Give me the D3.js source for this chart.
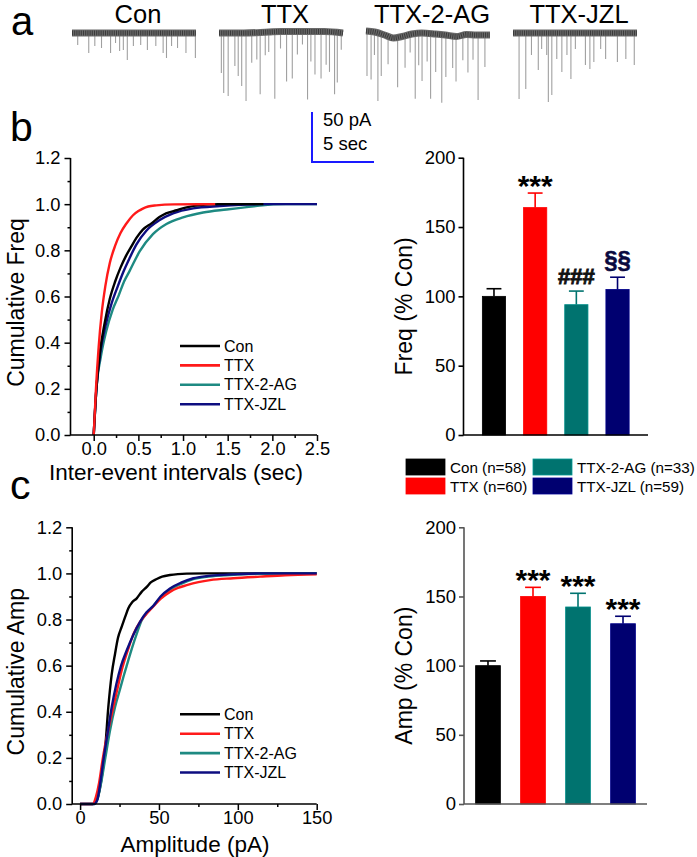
<!DOCTYPE html>
<html><head><meta charset="utf-8">
<script src="https://cdn.jsdelivr.net/npm/d3@7"></script>
<style>body{margin:0;background:#fff}svg{display:block;font-family:"Liberation Sans",Arial,sans-serif}</style>
</head><body><svg id="fig" width="697" height="857"></svg>
<script>
// ---------------- DATA ----------------
const groups = ["Con", "TTX", "TTX-2-AG", "TTX-JZL"];
const legendLabels = ["Con (n=58)", "TTX (n=60)", "TTX-2-AG (n=33)", "TTX-JZL (n=59)"];
const barColors = ["#000000", "#ff0000", "#00736f", "#000070"];
const lineColors = ["#000000", "#ff1a1a", "#1e8a82", "#0d0d80"];

// panel a: example traces (spike time in s, amplitude in pA)
const conSpikeT = [0.46,1.35,1.84,2.38,3.11,3.51,3.84,4.14,4.46,4.95,5.54,6.08,6.76,7.35,7.62,8.03,8.51,9.19,9.95];
const conSpikeA = [12,20,13,15,20,10,18,17,27,13,12,17,13,20,25,13,15,20,25];
const ttxSpikeT = [0.19,0.38,0.74,1.28,1.55,1.83,2.18,2.64,3.05,3.32,3.73,4.01,4.50,4.96,5.45,5.91,6.32,6.73,7.14,7.41,7.74,8.23,8.64,8.91,9.32,9.54,9.86];
const ttxSpikeA = [40,60,63,33,43,53,68,30,27,62,23,20,67,17,50,47,23,13,68,30,43,47,33,40,62,50,17];
const agSpikeT = [0.08,0.41,0.68,0.96,1.23,1.78,2.55,3.15,3.56,3.97,4.25,4.52,4.93,5.21,5.62,6.11,6.44,6.99,7.26,7.81,8.22,8.63,9.04,9.59];
const agSpikeA = [45,48,23,68,42,28,50,32,18,65,32,48,28,65,38,68,42,32,45,25,38,25,65,32];
const jzlSpikeT = [0.49,1.03,1.49,2.04,2.31,2.72,2.85,3.13,3.53,3.94,4.35,4.67,5.03,5.84,6.20,6.52,7.07,7.47,8.42,9.10,9.78];
const jzlSpikeA = [66,56,22,37,16,22,69,62,26,39,22,46,16,32,36,29,16,26,29,26,32];
// baseline drift (time s, offset pA)
const conDriftT = [0,10], conDriftA = [0,0];
const ttxDriftT = [0,2,4,5,6.5,8.5,10], ttxDriftA = [0,0,-1,-1.5,-1.5,-1.5,0];
const agDriftT = [0,0.7,1.5,2.2,2.9,3.7,4.5,5.6,6.4,7.3,8.1,8.9,10], agDriftA = [-2,-1,2,5,3.5,1,0,1,2,3.5,1.5,2,2];
const jzlDriftT = [0,10], jzlDriftA = [0,0];

// panel b: cumulative inter-event interval (sec, fraction)
const freqCon = [[0,0],[0.03,0.2],[0.07,0.36],[0.12,0.48],[0.18,0.59],[0.24,0.665],[0.3,0.725],[0.36,0.775],[0.42,0.816],[0.48,0.855],[0.55,0.89],[0.65,0.918],[0.74,0.945],[0.81,0.96],[0.93,0.974],[1.04,0.986],[1.19,0.996],[1.4,1.0],[1.9,1.0]];
const freqTTX = [[0,0],[0.025,0.2],[0.055,0.38],[0.09,0.53],[0.13,0.645],[0.18,0.745],[0.24,0.82],[0.3,0.875],[0.364,0.915],[0.44,0.952],[0.5,0.97],[0.55,0.981],[0.61,0.99],[0.7,0.995],[0.9,0.999],[1.36,1.0]];
const freqAG = [[0,0],[0.03,0.2],[0.08,0.34],[0.14,0.45],[0.21,0.54],[0.28,0.605],[0.34,0.665],[0.401,0.71],[0.514,0.795],[0.663,0.87],[0.814,0.914],[1.0,0.943],[1.225,0.964],[1.488,0.977],[1.713,0.987],[1.86,0.994],[2.15,1.0],[2.5,1.0]];
const freqJZL = [[0,0],[0.03,0.2],[0.075,0.36],[0.13,0.47],[0.2,0.57],[0.27,0.645],[0.33,0.705],[0.4,0.765],[0.477,0.825],[0.589,0.885],[0.739,0.931],[0.888,0.96],[1.113,0.982],[1.413,0.992],[1.86,1.0],[2.5,1.0]];
const freqMean = [100, 164, 94, 105];
const freqErr = [5.5, 10.5, 9.8, 8.8];
const freqMarks = ["", "***", "###", "§§"];

// panel c: cumulative amplitude (pA, fraction)
const ampCon = [[0,0],[8,0],[10,0.01],[12,0.05],[14,0.13],[16,0.25],[17.9,0.42],[20,0.56],[22.2,0.653],[24,0.72],[26.4,0.769],[28.5,0.81],[30.6,0.849],[33,0.875],[35.9,0.892],[39,0.92],[42.3,0.942],[45,0.962],[48.6,0.976],[52,0.986],[57,0.993],[62,0.997],[67.6,0.999],[80,1.0],[150,1.0]];
const ampTTX = [[0,0],[8,0],[10,0.03],[12,0.09],[14,0.18],[16,0.26],[18.5,0.34],[21.1,0.422],[24,0.51],[26.4,0.58],[30.6,0.674],[34,0.74],[38,0.79],[41.5,0.82],[45.4,0.849],[51,0.89],[57,0.92],[62,0.937],[67.6,0.949],[75,0.962],[82.4,0.971],[97.1,0.979],[114.1,0.986],[130,0.992],[150,0.996]];
const ampAG = [[0,0],[9,0],[11,0.02],[13,0.08],[16,0.2],[19,0.32],[22.2,0.422],[25,0.49],[27.5,0.552],[30,0.61],[32.8,0.674],[36,0.74],[39.1,0.797],[42.5,0.83],[46.5,0.86],[51,0.895],[57,0.93],[64,0.955],[71.8,0.975],[80,0.985],[88.7,0.991],[100,0.995],[120,0.999],[150,1.0]];
const ampJZL = [[0,0],[9,0],[11,0.02],[13,0.1],[15,0.2],[17.5,0.31],[20.1,0.422],[23,0.52],[26,0.6],[29.6,0.667],[33.5,0.73],[38,0.79],[42,0.83],[46.5,0.86],[51,0.9],[57,0.935],[64,0.96],[71.8,0.979],[80,0.988],[88.7,0.993],[100,0.997],[114,1.0],[150,1.0]];
const ampMean = [100, 150, 142.4, 130.3];
const ampErr = [3.4, 6.6, 9.9, 5.4];
const ampMarks = ["", "***", "***", "***"];

const cdfTicksY = [0, 0.2, 0.4, 0.6, 0.8, 1.0, 1.2];
const freqTicksX = [0, 0.5, 1.0, 1.5, 2.0, 2.5];
const ampTicksX = [0, 50, 100, 150];
const barTicksY = [0, 50, 100, 150, 200];

// ---------------- DRAW ----------------
const svg = d3.select("#fig");
const FONT = '"Liberation Sans", Arial, sans-serif';

function label(txt, x, y, size, opts = {}) {
  const t = svg.append("text").attr("x", x).attr("y", y).attr("font-size", size)
    .attr("fill", opts.fill || "#000").attr("text-anchor", opts.anchor || "start").text(txt);
  if (opts.weight) t.attr("font-weight", opts.weight);
  if (opts.stroke) t.attr("stroke", opts.fill || "#000").attr("stroke-width", opts.stroke);
  if (opts.rotate) t.attr("transform", `rotate(-90,${x},${y})`);
  return t;
}

// panel letters
label("a", 11, 35, 40);
label("b", 10, 141, 41);
label("c", 10, 499, 41);

// ---- panel a traces ----
const traces = [
  {name: groups[0], x0: 72, st: conSpikeT, sa: conSpikeA, dt: conDriftT, da: conDriftA},
  {name: groups[1], x0: 219, st: ttxSpikeT, sa: ttxSpikeA, dt: ttxDriftT, da: ttxDriftA},
  {name: groups[2], x0: 366, st: agSpikeT, sa: agSpikeA, dt: agDriftT, da: agDriftA},
  {name: groups[3], x0: 513, st: jzlSpikeT, sa: jzlSpikeA, dt: jzlDriftT, da: jzlDriftA}
];
const pxPerSec = 12.4, pxPerPA = 1.0, baseY = 33;
traces.forEach(tr => {
  const tx = d3.scaleLinear().domain([0, 10]).range([tr.x0, tr.x0 + 10 * pxPerSec]);
  const ty = d3.scaleLinear().domain([0, 100]).range([baseY, baseY + 100 * pxPerPA]);
  const drift = d3.scaleLinear().domain(tr.dt).range(tr.da);
  const g = svg.append("g");
  g.selectAll("line").data(tr.st.map((t, i) => [t, tr.sa[i]])).enter().append("line")
    .attr("x1", d => tx(d[0])).attr("x2", d => tx(d[0]))
    .attr("y1", d => ty(drift(d[0]))).attr("y2", d => ty(drift(d[0]) + d[1]))
    .attr("stroke", "#a0a0a0").attr("stroke-width", 1.1);
  const ln = d3.line().x(d => tx(d[0])).y(d => ty(d[1])).curve(d3.curveMonotoneX);
  const dd = tr.dt.map((t, i) => [t, tr.da[i]]);
  g.append("path").datum(dd).attr("d", ln)
    .attr("fill", "none").attr("stroke", "#6a6a6a").attr("stroke-width", 7);
  g.append("path").datum(dd).attr("d", ln)
    .attr("fill", "none").attr("stroke", "#3a3a3a").attr("stroke-width", 5).attr("stroke-dasharray", "1,1.2");
  label(tr.name, tx(5) + 4, 23, 25.5, {anchor: "middle"});
});
// scale bar
{
  const sx = d3.scaleLinear().domain([0, 5]).range([312, 312 + 5 * pxPerSec]);
  const sy = d3.scaleLinear().domain([0, 50]).range([162, 162 - 50 * pxPerPA]);
  svg.append("path").attr("d", `M${sx(0)},${sy(50)}V${sy(0)}H${sx(5)}`)
    .attr("fill", "none").attr("stroke", "#1a1aff").attr("stroke-width", 2);
  label("50 pA", 323, 126, 18.5);
  label("5 sec", 323, 150, 18.5);
}

// ---- CDF panels ----
function cdfPanel(cfg) {
  const x = d3.scaleLinear().domain(cfg.xDomain).range([cfg.left, cfg.right]);
  const y = d3.scaleLinear().domain([0, 1.2]).range([cfg.bottom, cfg.top]);
  const g = svg.append("g");
  const line = d3.line().x(d => x(d[0])).y(d => y(d[1])).curve(d3.curveMonotoneX);
  cfg.order.forEach(i => {
    g.append("path").datum(cfg.series[i]).attr("d", line).attr("fill", "none")
      .attr("stroke", lineColors[i]).attr("stroke-width", 2.4).attr("stroke-linejoin", "round");
  });
  const ya = d3.axisLeft(y).tickValues(cdfTicksY).tickSize(6).tickPadding(4).tickFormat(d3.format(".1f"));
  const yMinor = d3.axisLeft(y).tickValues(cdfTicksY.slice(0, -1).map(v => v + 0.1)).tickSize(3).tickFormat("");
  const xa = d3.axisBottom(x).tickValues(cfg.xTicks).tickSize(6).tickPadding(1).tickFormat(cfg.xFormat);
  const xMinor = d3.axisBottom(x).tickValues(cfg.xMinor).tickSize(3).tickFormat("");
  [ya, yMinor].forEach(a => {
    const ag = g.append("g").attr("transform", `translate(${cfg.left},0)`).call(a);
    ag.select(".domain").remove();
  });
  [xa, xMinor].forEach(a => {
    const ag = g.append("g").attr("transform", `translate(0,${cfg.bottom})`).call(a);
    ag.select(".domain").remove();
  });
  g.selectAll(".tick line").attr("stroke", "#000").attr("stroke-width", 1.5);
  g.selectAll(".tick text").attr("font-size", 18.3).attr("font-family", FONT).attr("fill", "#000");
  g.append("path").attr("d", `M${cfg.left},${cfg.top}V${cfg.bottom}H${cfg.right}`)
    .attr("fill", "none").attr("stroke", "#000").attr("stroke-width", 1.6);
  groups.forEach((nm, i) => {
    const ly = cfg.legY + i * 19.4;
    g.append("line").attr("x1", 180).attr("x2", 220).attr("y1", ly).attr("y2", ly)
      .attr("stroke", lineColors[i]).attr("stroke-width", 2.6);
    label(nm, 224, ly + 5.5, 16);
  });
  label(cfg.yTitle, 24, (cfg.top + cfg.bottom) / 2 + 6, 23, {anchor: "middle", rotate: true});
  label(cfg.xTitle, cfg.xTitleX, cfg.xTitleY, 22.5, {anchor: "middle"});
}
cdfPanel({xDomain: [-0.26, 2.5], left: 70.5, right: 317, top: 158, bottom: 435,
  series: [freqCon, freqTTX, freqAG, freqJZL], order: [2, 3, 0, 1],
  xTicks: freqTicksX, xMinor: [0.25, 0.75, 1.25, 1.75, 2.25], xFormat: d3.format(".1f"),
  legY: 346, yTitle: "Cumulative Freq", xTitle: "Inter-event intervals (sec)", xTitleX: 176, xTitleY: 479.5});
cdfPanel({xDomain: [-5, 150], left: 72.2, right: 316.7, top: 527.3, bottom: 804,
  series: [ampCon, ampTTX, ampAG, ampJZL], order: [0, 2, 1, 3],
  xTicks: ampTicksX, xMinor: [25, 75, 125], xFormat: d3.format("d"),
  legY: 714.3, yTitle: "Cumulative Amp", xTitle: "Amplitude (pA)", xTitleX: 195, xTitleY: 852});

// ---- bar panels ----
function barPanel(cfg) {
  const x = d3.scaleBand().domain(groups).range([cfg.left, cfg.right])
    .paddingInner(cfg.pi).paddingOuter(cfg.po);
  const y = d3.scaleLinear().domain([0, 200]).range([cfg.bottom, cfg.top]);
  const g = svg.append("g");
  const bw = x.bandwidth();
  groups.forEach((gname, i) => {
    const cx = x(gname) + bw / 2;
    const top = y(cfg.mean[i] + cfg.err[i]);
    g.append("line").attr("x1", cx).attr("x2", cx).attr("y1", y(cfg.mean[i])).attr("y2", top)
      .attr("stroke", barColors[i]).attr("stroke-width", 1.6);
    g.append("line").attr("x1", cx - bw * 0.32).attr("x2", cx + bw * 0.32)
      .attr("y1", top).attr("y2", top)
      .attr("stroke", barColors[i]).attr("stroke-width", 1.6);
    g.append("rect").attr("x", x(gname)).attr("width", bw)
      .attr("y", y(cfg.mean[i])).attr("height", y(0) - y(cfg.mean[i]))
      .attr("fill", barColors[i]).attr("stroke", d3.color(barColors[i]).brighter(0.6)).attr("stroke-width", 0.8);
    const m = cfg.marks[i];
    if (m) {
      if (m === "***") label(m, cx, top + 3, 30, {anchor: "middle", weight: "bold"});
      else if (m === "###") label(m, cx, top - 7, 22, {anchor: "middle", weight: "bold", fill: "#111", stroke: 0.9});
      else label(m, cx, top - 9, 24, {anchor: "middle", weight: "bold", fill: "#0a0a40", stroke: 0.5});
    }
  });
  const ya = d3.axisLeft(y).tickValues(barTicksY).tickSize(5).tickPadding(3);
  const ag = g.append("g").attr("transform", `translate(${cfg.left},0)`).call(ya);
  ag.select(".domain").remove();
  ag.selectAll(".tick line").attr("stroke", cfg.axisColor).attr("stroke-width", 1.6);
  ag.selectAll(".tick text").attr("font-size", 18.5).attr("font-family", FONT).attr("fill", "#000");
  g.append("path").attr("d", `M${cfg.left},${cfg.top}V${cfg.bottom}H${cfg.right}`)
    .attr("fill", "none").attr("stroke", cfg.axisColor).attr("stroke-width", 1.6);
  label(cfg.yTitle, 412, (cfg.top + cfg.bottom) / 2 + 10, 23, {anchor: "middle", rotate: true});
}
barPanel({left: 463.5, right: 648, top: 157.7, bottom: 435, pi: 0.436, po: 0.458,
  mean: freqMean, err: freqErr, marks: freqMarks, axisColor: "#000", yTitle: "Freq (% Con)"});
barPanel({left: 464, right: 647, top: 527.3, bottom: 804, pi: 0.45, po: 0.258,
  mean: ampMean, err: ampErr, marks: ampMarks, axisColor: "#555", yTitle: "Amp (% Con)"});

// bar legend
[[0, 406, 459], [1, 406, 478], [2, 533, 459], [3, 533, 478]].forEach(([i, lx, ly]) => {
  svg.append("rect").attr("x", lx).attr("y", ly).attr("width", 39).attr("height", 16)
    .attr("fill", barColors[i]).attr("stroke", d3.color(barColors[i]).brighter(0.8)).attr("stroke-width", 0.8);
  label(legendLabels[i], lx + 44, ly + 14, 15.2);
});
</script></body></html>
